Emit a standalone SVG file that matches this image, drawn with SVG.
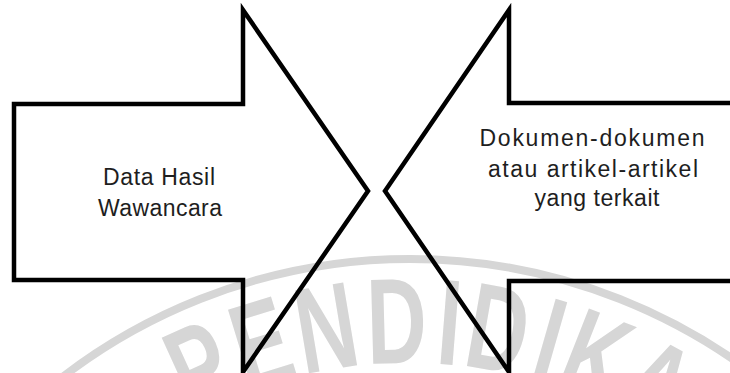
<svg xmlns="http://www.w3.org/2000/svg" width="730" height="373" viewBox="0 0 730 373">
  <style>
    .arrow { fill: none; stroke: #000; stroke-width: 4.5; stroke-linejoin: miter; stroke-miterlimit: 10; }
    .lbl { font-family: "Liberation Sans", Arial, sans-serif; font-size: 23px; fill: #1e1e1e; text-anchor: middle; }
    .wm { font-family: "Liberation Sans", Arial, sans-serif; font-weight: bold; font-size: 122px; fill: #d6d6d6; text-anchor: middle; }
    .ring { fill: none; stroke: #d6d6d6; stroke-width: 8; }
  </style>
  <rect x="0" y="0" width="730" height="373" fill="#fff"/>

  <g id="watermark">
    <circle class="ring" cx="410" cy="829" r="570"/>
    <g transform="translate(410 829)">
      <text class="wm" transform="rotate(-24.5) translate(0 -466) scale(0.68 1)">P</text>
      <text class="wm" transform="rotate(-17) translate(0 -466) scale(0.68 1)">E</text>
      <text class="wm" transform="rotate(-9.5) translate(0 -466) scale(0.68 1)">N</text>
      <text class="wm" transform="rotate(-1.5) translate(0 -466) scale(0.68 1)">D</text>
      <text class="wm" transform="rotate(4.5) translate(0 -466) scale(0.68 1)">I</text>
      <text class="wm" transform="rotate(10) translate(0 -466) scale(0.68 1)">D</text>
      <text class="wm" transform="rotate(16) translate(0 -466) scale(0.68 1)">I</text>
      <text class="wm" transform="rotate(21.5) translate(0 -466) scale(0.68 1)">K</text>
      <text class="wm" transform="rotate(29) translate(0 -466) scale(0.68 1)">A</text>
      <text class="wm" transform="rotate(37) translate(0 -466) scale(0.68 1)">N</text>
    </g>
  </g>

  <g id="connectors"/>

  <g id="node-wawancara">
    <polygon class="arrow" points="14,104 243,104 243,10 368,191 243,372 243,280 14,280"/>
    <text class="lbl" x="159" y="185" textLength="112" lengthAdjust="spacing">Data Hasil</text>
    <text class="lbl" x="160" y="216" textLength="124" lengthAdjust="spacing">Wawancara</text>
  </g>

  <g id="node-dokumen">
    <polygon class="arrow" points="740,103 509,103 509,10 385,191 509,372 509,281 740,281"/>
    <text class="lbl" x="592" y="146" textLength="225" lengthAdjust="spacing">Dokumen-dokumen</text>
    <text class="lbl" x="593" y="177" textLength="210" lengthAdjust="spacing">atau artikel-artikel</text>
    <text class="lbl" x="597" y="206" textLength="125" lengthAdjust="spacing">yang terkait</text>
  </g>
</svg>
